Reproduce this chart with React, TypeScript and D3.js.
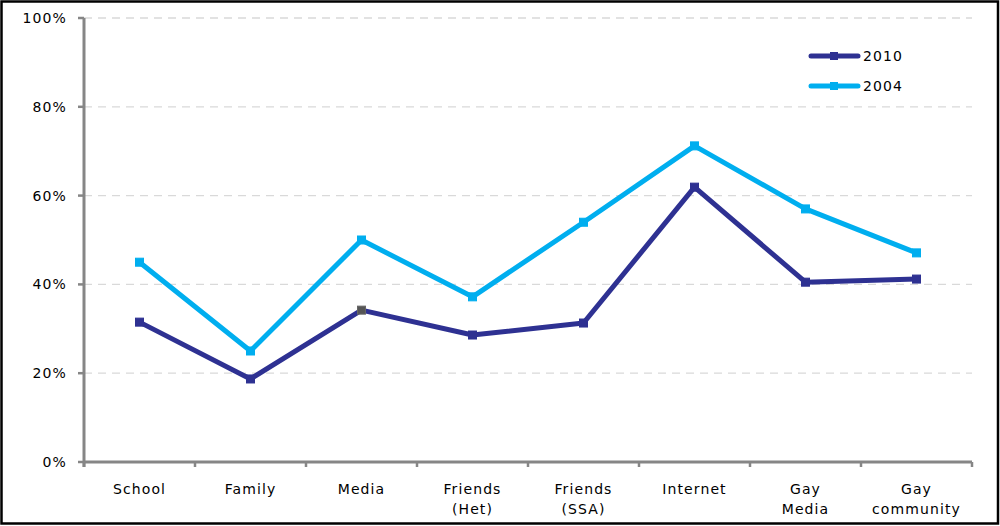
import React from "react";
import * as d3 from "d3";

const categories: string[][] = [
  ["School"],
  ["Family"],
  ["Media"],
  ["Friends", "(Het)"],
  ["Friends", "(SSA)"],
  ["Internet"],
  ["Gay", "Media"],
  ["Gay", "community"],
];
const values2010: number[] = [31.5, 18.7, 34.2, 28.6, 31.3, 61.9, 40.5, 41.2];
const values2004: number[] = [45.0, 25.0, 50.0, 37.2, 54.0, 71.2, 57.0, 47.1];
const yTicks: number[] = [0, 20, 40, 60, 80, 100];
const seriesNames: string[] = ["2010", "2004"];

const W = 1000;
const H = 526;
const left = 84;
const right = 972;
const top = 18;
const bottom = 462;
const FONT = "'DejaVu Sans', Verdana, sans-serif";
const LS = 1.1;
const colors = ["#2E3192", "#00AEEF"];

export default function App() {
  const x = d3
    .scaleBand<number>()
    .domain(d3.range(categories.length))
    .range([left, right]);
  const y = d3.scaleLinear().domain([0, 100]).range([bottom, top]);
  const line = d3
    .line<number>()
    .x((_, i) => (x(i) as number) + x.bandwidth() / 2)
    .y((d) => y(d));
  const series = [values2010, values2004];
  const boundaries = d3.range(categories.length + 1).map((i) => left + i * x.bandwidth());

  return (
    <div style={{ position: "fixed", left: 0, top: 0 }}>
      <svg width={W} height={H} style={{ display: "block", background: "#fff" }}>
        <rect x={1.5} y={1.5} width={996.5} height={522} fill="#fff" stroke="#000" strokeWidth={2.5} />
        {yTicks.filter((t) => t > 0).map((t) => (
          <line key={t} x1={left} x2={right} y1={y(t)} y2={y(t)} stroke="#d9d9d9" strokeWidth={1.3} strokeDasharray="8,6" />
        ))}
        {/* y axis */}
        <line x1={left} x2={left} y1={top} y2={bottom + 5} stroke="#868686" strokeWidth={3} />
        {yTicks.map((t) => (
          <g key={t}>
            <line x1={left - 6} x2={left} y1={y(t)} y2={y(t)} stroke="#868686" strokeWidth={2.5} />
            <text x={left - 17} y={y(t)} dy="0.35em" textAnchor="end" fontFamily={FONT} fontSize={14} letterSpacing={LS} fill="#000">
              {t}%
            </text>
          </g>
        ))}
        {/* x axis */}
        <line x1={left} x2={right} y1={bottom} y2={bottom} stroke="#868686" strokeWidth={3} />
        {boundaries.map((b, i) => (
          <line key={i} x1={b} x2={b} y1={bottom} y2={bottom + 5} stroke="#868686" strokeWidth={2.5} />
        ))}
        {categories.map((c, i) => (
          <text key={i} textAnchor="middle" fontFamily={FONT} fontSize={14} letterSpacing={LS} fill="#000">
            {c.map((ln, j) => (
              <tspan key={j} x={(x(i) as number) + x.bandwidth() / 2} y={494 + j * 20}>
                {ln}
              </tspan>
            ))}
          </text>
        ))}
        {/* series */}
        {series.map((vals, s) => (
          <g key={s}>
            <path d={line(vals) || ""} fill="none" stroke={colors[s]} strokeWidth={5} strokeLinejoin="round" />
            {vals.map((v, i) => (
              <rect
                key={i}
                x={(x(i) as number) + x.bandwidth() / 2 - 4}
                y={y(v) - 4}
                width={8}
                height={8}
                fill={s === 0 && i === 2 ? "#555" : colors[s]}
                stroke={s === 0 && i === 2 ? "#666" : colors[s]}
                strokeWidth={1}
              />
            ))}
          </g>
        ))}
        {/* legend */}
        {seriesNames.map((n, s) => (
          <g key={n} transform={`translate(0, ${56 + s * 30})`}>
            <line x1={811} x2={858} y1={0} y2={0} stroke={colors[s]} strokeWidth={5} strokeLinecap="round" />
            <rect x={830} y={-4} width={8} height={8} fill={colors[s]} />
            <text x={863} y={0} dy="0.35em" fontFamily={FONT} fontSize={14} letterSpacing={LS} fill="#000">
              {n}
            </text>
          </g>
        ))}
      </svg>
    </div>
  );
}
